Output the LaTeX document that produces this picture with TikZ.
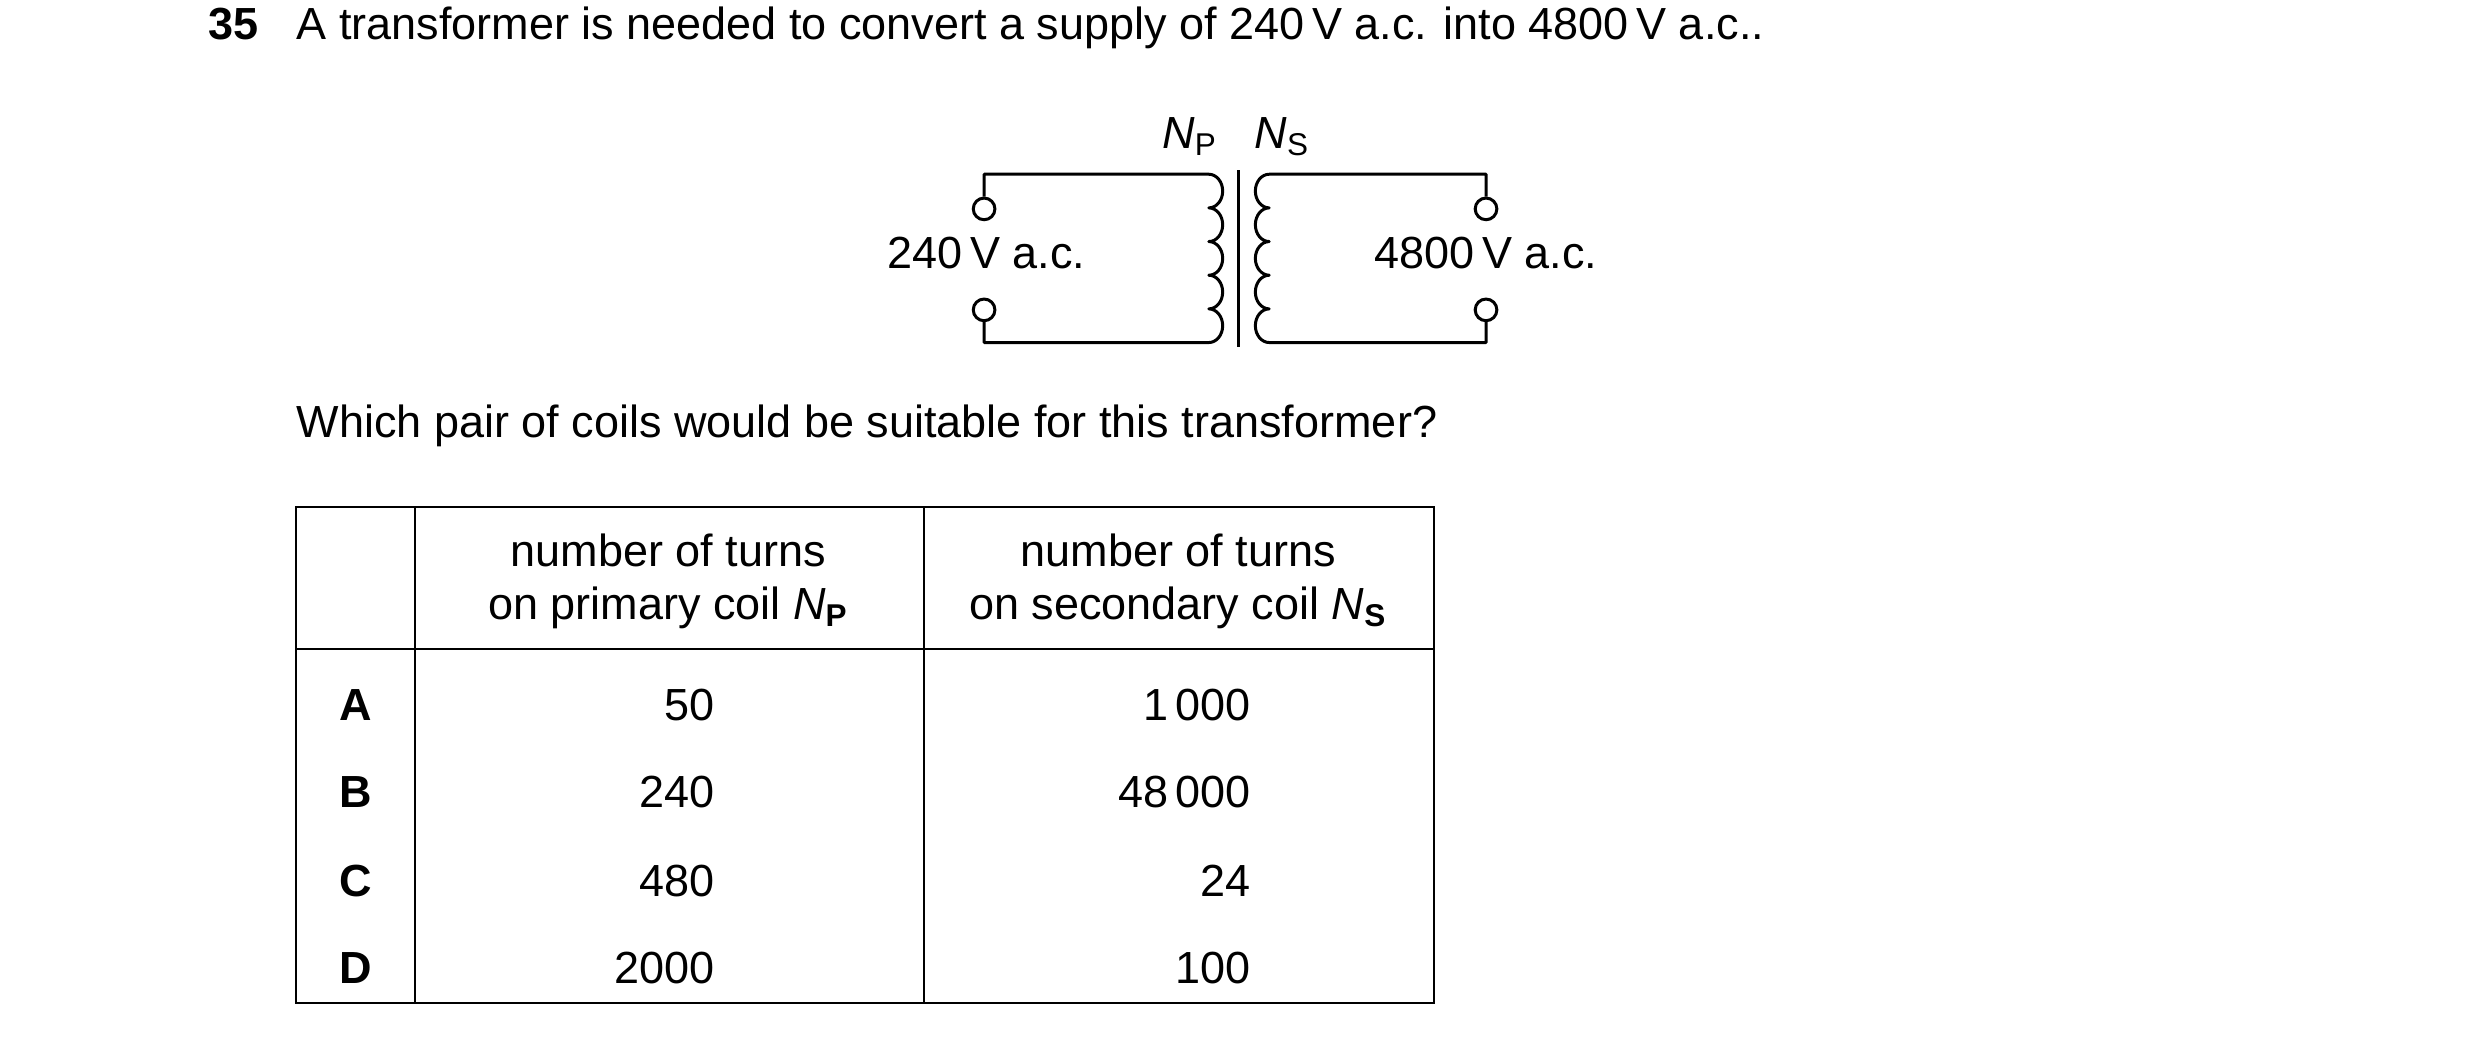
\documentclass[tikz,border=0pt]{standalone}
\usepackage{fontspec}
\setmainfont{Liberation Sans}
\begin{document}
\begin{tikzpicture}[x=0.297pt,y=-0.297pt,
  wire/.style={line width=0.9pt,line join=round},
  grid/.style={line width=0.6pt},
  txt/.style={font=\fontsize{13.5}{16}\selectfont,inner sep=0pt},
  term/.style={circle,draw,line width=0.9pt,minimum size=6.5pt,inner sep=0pt}]
\useasboundingbox (0,0) rectangle (2505,1052.5);
% heading
\node[txt,anchor=base west,font=\fontsize{13.5}{16}\selectfont\bfseries] (num) at (210,40) {35};
\node[txt,anchor=base west] (q1) at (299,40) {A transformer is needed to convert a supply of 240\,V a.c. into 4800\,V a.c..};
% transformer
\node[term] (t1) at (994,211) {};
\node[term] (t2) at (994,313) {};
\node[term] (t3) at (1501,211) {};
\node[term] (t4) at (1501,313) {};
\draw[wire] (t1.north) -- (994,176) -- (1221,176)
  arc[start angle=-90,end angle=90,x radius=14,y radius=17]
  arc[start angle=-90,end angle=90,x radius=14,y radius=17]
  arc[start angle=-90,end angle=90,x radius=14,y radius=17]
  arc[start angle=-90,end angle=90,x radius=14,y radius=17]
  arc[start angle=-90,end angle=90,x radius=14,y radius=17]
  -- (994,346) -- (t2.south);
\draw[wire] (t3.north) -- (1501,176) -- (1282,176)
  arc[start angle=-90,end angle=-270,x radius=14,y radius=17]
  arc[start angle=-90,end angle=-270,x radius=14,y radius=17]
  arc[start angle=-90,end angle=-270,x radius=14,y radius=17]
  arc[start angle=-90,end angle=-270,x radius=14,y radius=17]
  arc[start angle=-90,end angle=-270,x radius=14,y radius=17]
  -- (1501,346) -- (t4.south);
\coordinate (c1) at (1251,172); \coordinate (c2) at (1251,350);
\draw[wire] (c1) -- (c2);
\node[txt,anchor=mid west] (l240) at (896,262) {240\,V a.c.};
\node[txt,anchor=mid west] (l4800) at (1388,262) {4800\,V a.c.};
\node[txt,anchor=base] (np) at (1202,150) {\textit{N}\textsubscript{P}};
\node[txt,anchor=base] (ns) at (1295,150) {\textit{N}\textsubscript{S}};
% question
\node[txt,anchor=base west] (q2) at (299,442) {Which pair of coils would be suitable for this transformer?};
% table
\draw[grid] (299,512) rectangle (1448,1013);
\draw[grid] (419,512) -- (419,1013);
\draw[grid] (933,512) -- (933,1013);
\draw[grid] (299,656) -- (1448,656);
\node[txt,align=center] (h1) at (675,587) {number of turns\\on primary coil \textit{N}\textsubscript{\textbf{P}}};
\node[txt,align=center] (h2) at (1190,587) {number of turns\\on secondary coil \textit{N}\textsubscript{\textbf{S}}};
\foreach \l/\a/\b/\y in {A/50/1\,000/712,B/240/48\,000/800,C/480/24/890,D/2000/100/978}{
  \node[txt,font=\fontsize{13.5}{16}\selectfont\bfseries] at (359,\y) {\l};
  \node[txt,anchor=east] at (722,\y) {\a};
  \node[txt,anchor=east] at (1264,\y) {\b};
}
\end{tikzpicture}
\end{document}
